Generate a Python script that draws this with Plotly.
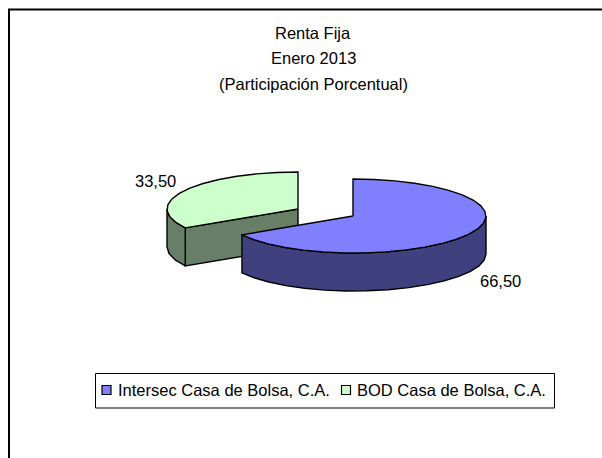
import numpy as np
import plotly.graph_objects as go

categories = ["Intersec Casa de Bolsa, C.A.", "BOD Casa de Bolsa, C.A."]
values = [66.50, 33.50]
value_labels = ["66,50", "33,50"]
title_lines = ["Renta Fija", "Enero 2013", "(Participación Porcentual)"]
top_colors = ["#8080FF", "#CCFFCC"]
side_colors = ["#40407F", "#667F66"]

FONT = "Liberation Sans, Arial, sans-serif"
centers = [(353, 216), (298, 209)]
rx_right = [133, 131]
rx_left = [129, 131]
ry, depth = 37, 38


def pt(i, deg):
    t = np.radians(deg)
    s, co = np.sin(t), np.cos(t)
    c = centers[i]
    return c[0] + np.where(s > 0, rx_right[i], rx_left[i]) * s, c[1] - ry * co


def arc(i, a, b, step=9):
    n = max(2, int(abs(b - a) / step) + 1)
    return pt(i, np.linspace(a, b, n))


share = 360 * values[0] / sum(values)
spans = [(0, share), (share, 360)]
fig = go.Figure()


def poly(xs, ys, fill):
    xs = list(xs) + [xs[0]]
    ys = list(ys) + [ys[0]]
    fig.add_trace(go.Scatter(x=xs, y=ys, mode="lines", fill="toself", fillcolor=fill,
                             line=dict(color="black", width=1.4), hoverinfo="skip",
                             showlegend=False))


# second slice first (it sits behind the first one)
for i in (1, 0):
    c = centers[i]
    a, b = spans[i]
    if i == 1:
        ex, ey = pt(i, a)
        ex, ey = float(ex), float(ey)
        poly([c[0], ex, ex, c[0]], [c[1], ey, ey + depth, c[1] + depth], side_colors[i])
        sx, sy = arc(i, a, 270)
    else:
        sx, sy = arc(i, 90, b)
    poly(list(sx) + list(sx[::-1]), list(sy) + list(np.array(sy[::-1]) + depth), side_colors[i])
    tx, ty = arc(i, a, b)
    poly([c[0]] + list(tx), [c[1]] + list(ty), top_colors[i])

# legend swatches
swatch_x = [106.5, 346]
fig.add_trace(go.Scatter(x=swatch_x, y=[390, 390], mode="markers", hoverinfo="skip", showlegend=False,
                         marker=dict(symbol="square", size=9, color=top_colors,
                                     line=dict(color="black", width=1.2))))

ann = [dict(x=313, y=y, text=t, font=dict(size=16.5)) for y, t in zip([33, 58, 84], title_lines)]
ann += [dict(x=500, y=281, text=value_labels[0], font=dict(size=16.5)),
        dict(x=155.5, y=181, text=value_labels[1], font=dict(size=16.5)),
        dict(x=116, y=389.5, text=categories[0], xanchor="left", font=dict(size=16.5)),
        dict(x=355, y=389.5, text=categories[1], xanchor="left", font=dict(size=16.5))]
for a in ann:
    a.setdefault("xanchor", "center")
    a.update(xref="x", yref="y", yanchor="middle", showarrow=False)
    a["font"].update(family=FONT, color="black")

fig.update_layout(
    width=602, height=458, margin=dict(l=0, r=0, t=0, b=0),
    paper_bgcolor="white", plot_bgcolor="white", showlegend=False,
    xaxis=dict(range=[0, 602], visible=False, fixedrange=True),
    yaxis=dict(range=[458, 0], visible=False, fixedrange=True),
    annotations=ann,
    shapes=[
        dict(type="rect", x0=9, y0=9.5, x1=640, y1=500, line=dict(color="black", width=2), layer="below"),
        dict(type="rect", x0=95.5, y0=373.5, x1=554.5, y1=408, line=dict(color="black", width=1), layer="below"),
    ],
)
fig.write_html("out.html", config=dict(displayModeBar=False),
               post_script="document.body.style.margin='0';document.body.style.overflow='hidden';")
